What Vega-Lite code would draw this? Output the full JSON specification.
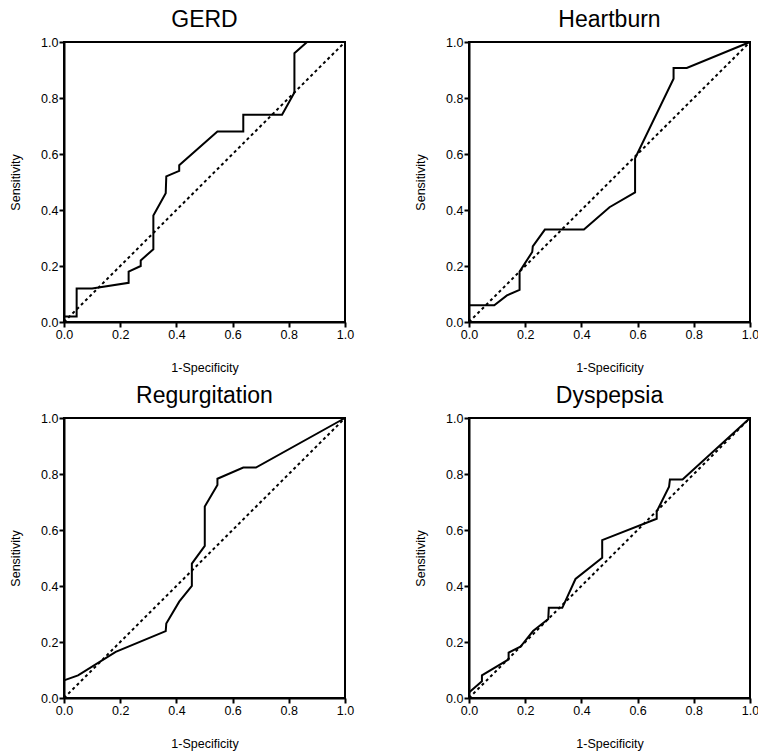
{
  "$schema": "https://vega.github.io/schema/vega-lite/v6.json",
  "padding": {"left": 8, "top": 8, "right": 0, "bottom": 0},
  "datasets": {
    "gerd": [
      {"i": 0, "fpr": 0, "tpr": 0.02},
      {"i": 1, "fpr": 0.045, "tpr": 0.02},
      {"i": 2, "fpr": 0.045, "tpr": 0.12},
      {"i": 3, "fpr": 0.1, "tpr": 0.12},
      {"i": 4, "fpr": 0.23, "tpr": 0.14},
      {"i": 5, "fpr": 0.23, "tpr": 0.18},
      {"i": 6, "fpr": 0.273, "tpr": 0.2},
      {"i": 7, "fpr": 0.273, "tpr": 0.22},
      {"i": 8, "fpr": 0.318, "tpr": 0.26},
      {"i": 9, "fpr": 0.318, "tpr": 0.38},
      {"i": 10, "fpr": 0.362, "tpr": 0.46},
      {"i": 11, "fpr": 0.364, "tpr": 0.52},
      {"i": 12, "fpr": 0.41, "tpr": 0.54},
      {"i": 13, "fpr": 0.41, "tpr": 0.56},
      {"i": 14, "fpr": 0.546, "tpr": 0.68},
      {"i": 15, "fpr": 0.638, "tpr": 0.68},
      {"i": 16, "fpr": 0.638, "tpr": 0.74},
      {"i": 17, "fpr": 0.776, "tpr": 0.74},
      {"i": 18, "fpr": 0.82, "tpr": 0.82},
      {"i": 19, "fpr": 0.82, "tpr": 0.96},
      {"i": 20, "fpr": 0.865, "tpr": 1.0},
      {"i": 21, "fpr": 1.0, "tpr": 1.0}
    ],
    "heartburn": [
      {"i": 0, "fpr": 0, "tpr": 0},
      {"i": 1, "fpr": 0, "tpr": 0.06},
      {"i": 2, "fpr": 0.09, "tpr": 0.06},
      {"i": 3, "fpr": 0.135, "tpr": 0.095},
      {"i": 4, "fpr": 0.18, "tpr": 0.115},
      {"i": 5, "fpr": 0.18, "tpr": 0.18},
      {"i": 6, "fpr": 0.225, "tpr": 0.25},
      {"i": 7, "fpr": 0.227, "tpr": 0.27},
      {"i": 8, "fpr": 0.27, "tpr": 0.33},
      {"i": 9, "fpr": 0.409, "tpr": 0.33},
      {"i": 10, "fpr": 0.5, "tpr": 0.41},
      {"i": 11, "fpr": 0.591, "tpr": 0.463},
      {"i": 12, "fpr": 0.591, "tpr": 0.585},
      {"i": 13, "fpr": 0.728, "tpr": 0.869},
      {"i": 14, "fpr": 0.728, "tpr": 0.907},
      {"i": 15, "fpr": 0.775, "tpr": 0.907},
      {"i": 16, "fpr": 1.0, "tpr": 1.0}
    ],
    "regurgitation": [
      {"i": 0, "fpr": 0, "tpr": 0.063},
      {"i": 1, "fpr": 0.05, "tpr": 0.081},
      {"i": 2, "fpr": 0.184, "tpr": 0.165},
      {"i": 3, "fpr": 0.362, "tpr": 0.239},
      {"i": 4, "fpr": 0.364, "tpr": 0.266},
      {"i": 5, "fpr": 0.41, "tpr": 0.344},
      {"i": 6, "fpr": 0.455, "tpr": 0.4},
      {"i": 7, "fpr": 0.455, "tpr": 0.48},
      {"i": 8, "fpr": 0.501, "tpr": 0.543},
      {"i": 9, "fpr": 0.501, "tpr": 0.684},
      {"i": 10, "fpr": 0.546, "tpr": 0.761},
      {"i": 11, "fpr": 0.546, "tpr": 0.783},
      {"i": 12, "fpr": 0.638, "tpr": 0.823},
      {"i": 13, "fpr": 0.683, "tpr": 0.823},
      {"i": 14, "fpr": 1.0, "tpr": 1.0}
    ],
    "dyspepsia": [
      {"i": 0, "fpr": 0, "tpr": 0.02},
      {"i": 1, "fpr": 0.046, "tpr": 0.06},
      {"i": 2, "fpr": 0.046, "tpr": 0.081},
      {"i": 3, "fpr": 0.141, "tpr": 0.138},
      {"i": 4, "fpr": 0.141, "tpr": 0.162},
      {"i": 5, "fpr": 0.183, "tpr": 0.183},
      {"i": 6, "fpr": 0.228, "tpr": 0.239},
      {"i": 7, "fpr": 0.282, "tpr": 0.282},
      {"i": 8, "fpr": 0.284, "tpr": 0.322},
      {"i": 9, "fpr": 0.332, "tpr": 0.322},
      {"i": 10, "fpr": 0.379, "tpr": 0.425},
      {"i": 11, "fpr": 0.474, "tpr": 0.501},
      {"i": 12, "fpr": 0.474, "tpr": 0.564},
      {"i": 13, "fpr": 0.668, "tpr": 0.64},
      {"i": 14, "fpr": 0.668, "tpr": 0.666},
      {"i": 15, "fpr": 0.712, "tpr": 0.755},
      {"i": 16, "fpr": 0.715, "tpr": 0.78},
      {"i": 17, "fpr": 0.76, "tpr": 0.78},
      {"i": 18, "fpr": 1.0, "tpr": 1.0}
    ],
    "diag": [
      {"fpr": 0, "tpr": 0},
      {"fpr": 1, "tpr": 1}
    ]
  },
  "columns": 2,
  "spacing": {"column": 58, "row": 9},
  "concat": [
    {
      "title": "GERD",
      "width": 281, "height": 280,
      "encoding": {
        "x": {"field": "fpr", "type": "quantitative", "scale": {"domain": [0, 1], "nice": false}, "axis": {"title": "1-Specificity", "values": [0, 0.2, 0.4, 0.6, 0.8, 1], "format": ".1f", "titlePadding": 21, "labelFlush": false}},
        "y": {"field": "tpr", "type": "quantitative", "scale": {"domain": [0, 1], "nice": false}, "axis": {"title": "Sensitivity", "values": [0, 0.2, 0.4, 0.6, 0.8, 1], "format": ".1f", "titlePadding": 18, "labelFlush": false}}
      },
      "layer": [
        {"data": {"name": "diag"}, "mark": {"type": "line", "strokeDash": [3, 3], "strokeWidth": 2, "color": "black"}},
        {"data": {"name": "gerd"}, "mark": {"type": "line", "strokeWidth": 2, "color": "black"}, "encoding": {"order": {"field": "i"}}}
      ]
    },
    {
      "title": "Heartburn",
      "width": 281, "height": 280,
      "encoding": {
        "x": {"field": "fpr", "type": "quantitative", "scale": {"domain": [0, 1], "nice": false}, "axis": {"title": "1-Specificity", "values": [0, 0.2, 0.4, 0.6, 0.8, 1], "format": ".1f", "titlePadding": 21, "labelFlush": false}},
        "y": {"field": "tpr", "type": "quantitative", "scale": {"domain": [0, 1], "nice": false}, "axis": {"title": "Sensitivity", "values": [0, 0.2, 0.4, 0.6, 0.8, 1], "format": ".1f", "titlePadding": 18, "labelFlush": false}}
      },
      "layer": [
        {"data": {"name": "diag"}, "mark": {"type": "line", "strokeDash": [3, 3], "strokeWidth": 2, "color": "black"}},
        {"data": {"name": "heartburn"}, "mark": {"type": "line", "strokeWidth": 2, "color": "black"}, "encoding": {"order": {"field": "i"}}}
      ]
    },
    {
      "title": "Regurgitation",
      "width": 281, "height": 280,
      "encoding": {
        "x": {"field": "fpr", "type": "quantitative", "scale": {"domain": [0, 1], "nice": false}, "axis": {"title": "1-Specificity", "values": [0, 0.2, 0.4, 0.6, 0.8, 1], "format": ".1f", "titlePadding": 21, "labelFlush": false}},
        "y": {"field": "tpr", "type": "quantitative", "scale": {"domain": [0, 1], "nice": false}, "axis": {"title": "Sensitivity", "values": [0, 0.2, 0.4, 0.6, 0.8, 1], "format": ".1f", "titlePadding": 18, "labelFlush": false}}
      },
      "layer": [
        {"data": {"name": "diag"}, "mark": {"type": "line", "strokeDash": [3, 3], "strokeWidth": 2, "color": "black"}},
        {"data": {"name": "regurgitation"}, "mark": {"type": "line", "strokeWidth": 2, "color": "black"}, "encoding": {"order": {"field": "i"}}}
      ]
    },
    {
      "title": "Dyspepsia",
      "width": 281, "height": 280,
      "encoding": {
        "x": {"field": "fpr", "type": "quantitative", "scale": {"domain": [0, 1], "nice": false}, "axis": {"title": "1-Specificity", "values": [0, 0.2, 0.4, 0.6, 0.8, 1], "format": ".1f", "titlePadding": 21, "labelFlush": false}},
        "y": {"field": "tpr", "type": "quantitative", "scale": {"domain": [0, 1], "nice": false}, "axis": {"title": "Sensitivity", "values": [0, 0.2, 0.4, 0.6, 0.8, 1], "format": ".1f", "titlePadding": 18, "labelFlush": false}}
      },
      "layer": [
        {"data": {"name": "diag"}, "mark": {"type": "line", "strokeDash": [3, 3], "strokeWidth": 2, "color": "black"}},
        {"data": {"name": "dyspepsia"}, "mark": {"type": "line", "strokeWidth": 2, "color": "black"}, "encoding": {"order": {"field": "i"}}}
      ]
    }
  ],
  "config": {
    "font": "Liberation Sans",
    "view": {"stroke": "black", "strokeWidth": 2},
    "title": {"fontSize": 23, "fontWeight": "normal", "color": "black", "baseline": "alphabetic", "offset": 4},
    "axis": {
      "grid": false,
      "domainColor": "black", "domainWidth": 2,
      "tickColor": "black", "tickWidth": 2, "tickSize": 5,
      "labelColor": "black", "labelFontSize": 12.5, "labelPadding": 1,
      "titleColor": "black", "titleFontSize": 12.5, "titleFontWeight": "normal"
    }
  }
}
